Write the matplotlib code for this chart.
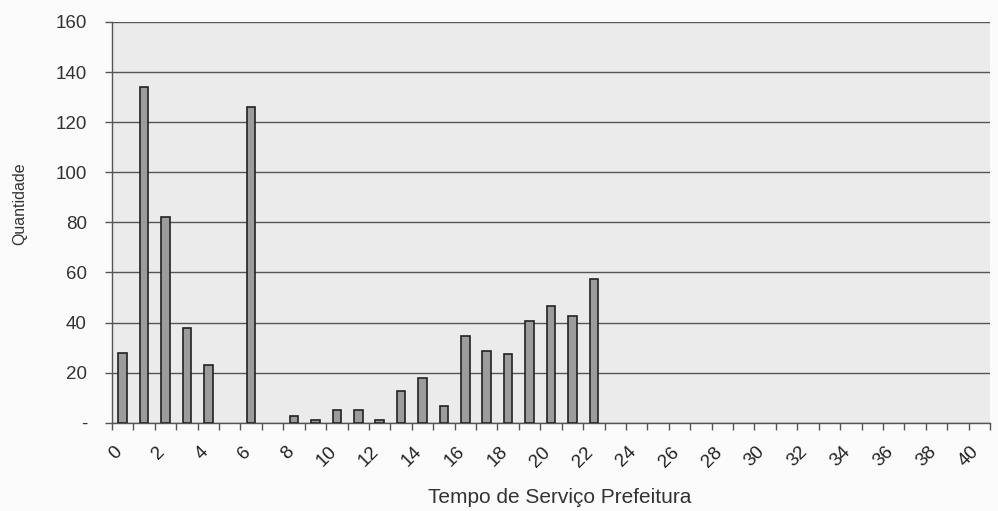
import matplotlib
matplotlib.use("Agg")
import matplotlib.pyplot as plt
import matplotlib.transforms as mtransforms
import numpy as np

plt.rcParams['font.family'] = ['Liberation Sans', 'DejaVu Sans']

categories = list(range(0, 41))
values = [28, 134, 82, 38, 23, 0, 126, 0, 2.5, 1, 5, 5, 1, 12.5, 18, 6.5, 34.5, 28.5, 27.5, 40.5, 46.5, 42.5, 57.5] + [0] * 18
y_ticks = [0, 20, 40, 60, 80, 100, 120, 140, 160]
y_tick_labels = ['-', '20', '40', '60', '80', '100', '120', '140', '160']
x_tick_labels = [str(c) for c in categories[::2]]

fig = plt.figure(figsize=(9.98, 5.11), dpi=100)
fig.patch.set_facecolor('#fbfbfb')
ax = fig.add_axes([112/998, (511-422.7)/511, (990-112)/998, (422.7-22)/511])
ax.set_facecolor('#ebebeb')

x = np.arange(len(categories))
vals = np.array(values, dtype=float)
mask = vals > 0
ax.bar(x[mask], vals[mask], width=0.4, color='#9c9c9c', edgecolor='#222222', linewidth=1.2, zorder=3)

ax.set_xlim(-0.5, len(categories) - 0.5)
ax.set_ylim(0, 160)
ax.set_yticks(y_ticks)
ax.set_yticklabels(y_tick_labels, fontsize=13.5, color='#333333')
ax.yaxis.grid(True, color='#555555', linewidth=1.0, zorder=1)
ax.tick_params(axis='y', length=5, width=1, color='#555555', pad=13)

ax.set_xticks(np.arange(-0.5, len(categories), 1), minor=True)
ax.tick_params(axis='x', which='major', length=0, pad=15)
ax.tick_params(axis='x', which='minor', length=5, width=1, color='#555555')
ax.set_xticks(x[::2])
ax.set_xticklabels(x_tick_labels, rotation=45, ha='right', rotation_mode='anchor', fontsize=13.5, color='#222222')

for s in ['top', 'right']:
    ax.spines[s].set_visible(False)
for s in ['left', 'bottom']:
    ax.spines[s].set_color('#555555')
    ax.spines[s].set_linewidth(1.0)

ax.set_xlabel('Tempo de Serviço Prefeitura', fontsize=15, color='#333333')
ax.xaxis.set_label_coords((560 - 112) / (990 - 112), -(497 - 422.7) / (422.7 - 22))
ax.xaxis.label.set_va('center')
ax.set_ylabel('Quantidade', fontsize=11.5, color='#333333')
ax.yaxis.set_label_coords(-(112 - 20) / (990 - 112), (422.7 - 204) / (422.7 - 22))
ax.yaxis.label.set_va('center')

offset = mtransforms.ScaledTranslation(-9/100, 0, fig.dpi_scale_trans)
for lbl in ax.xaxis.get_majorticklabels():
    lbl.set_transform(lbl.get_transform() + offset)

fig.savefig('out.png', dpi=100, facecolor=fig.get_facecolor())
